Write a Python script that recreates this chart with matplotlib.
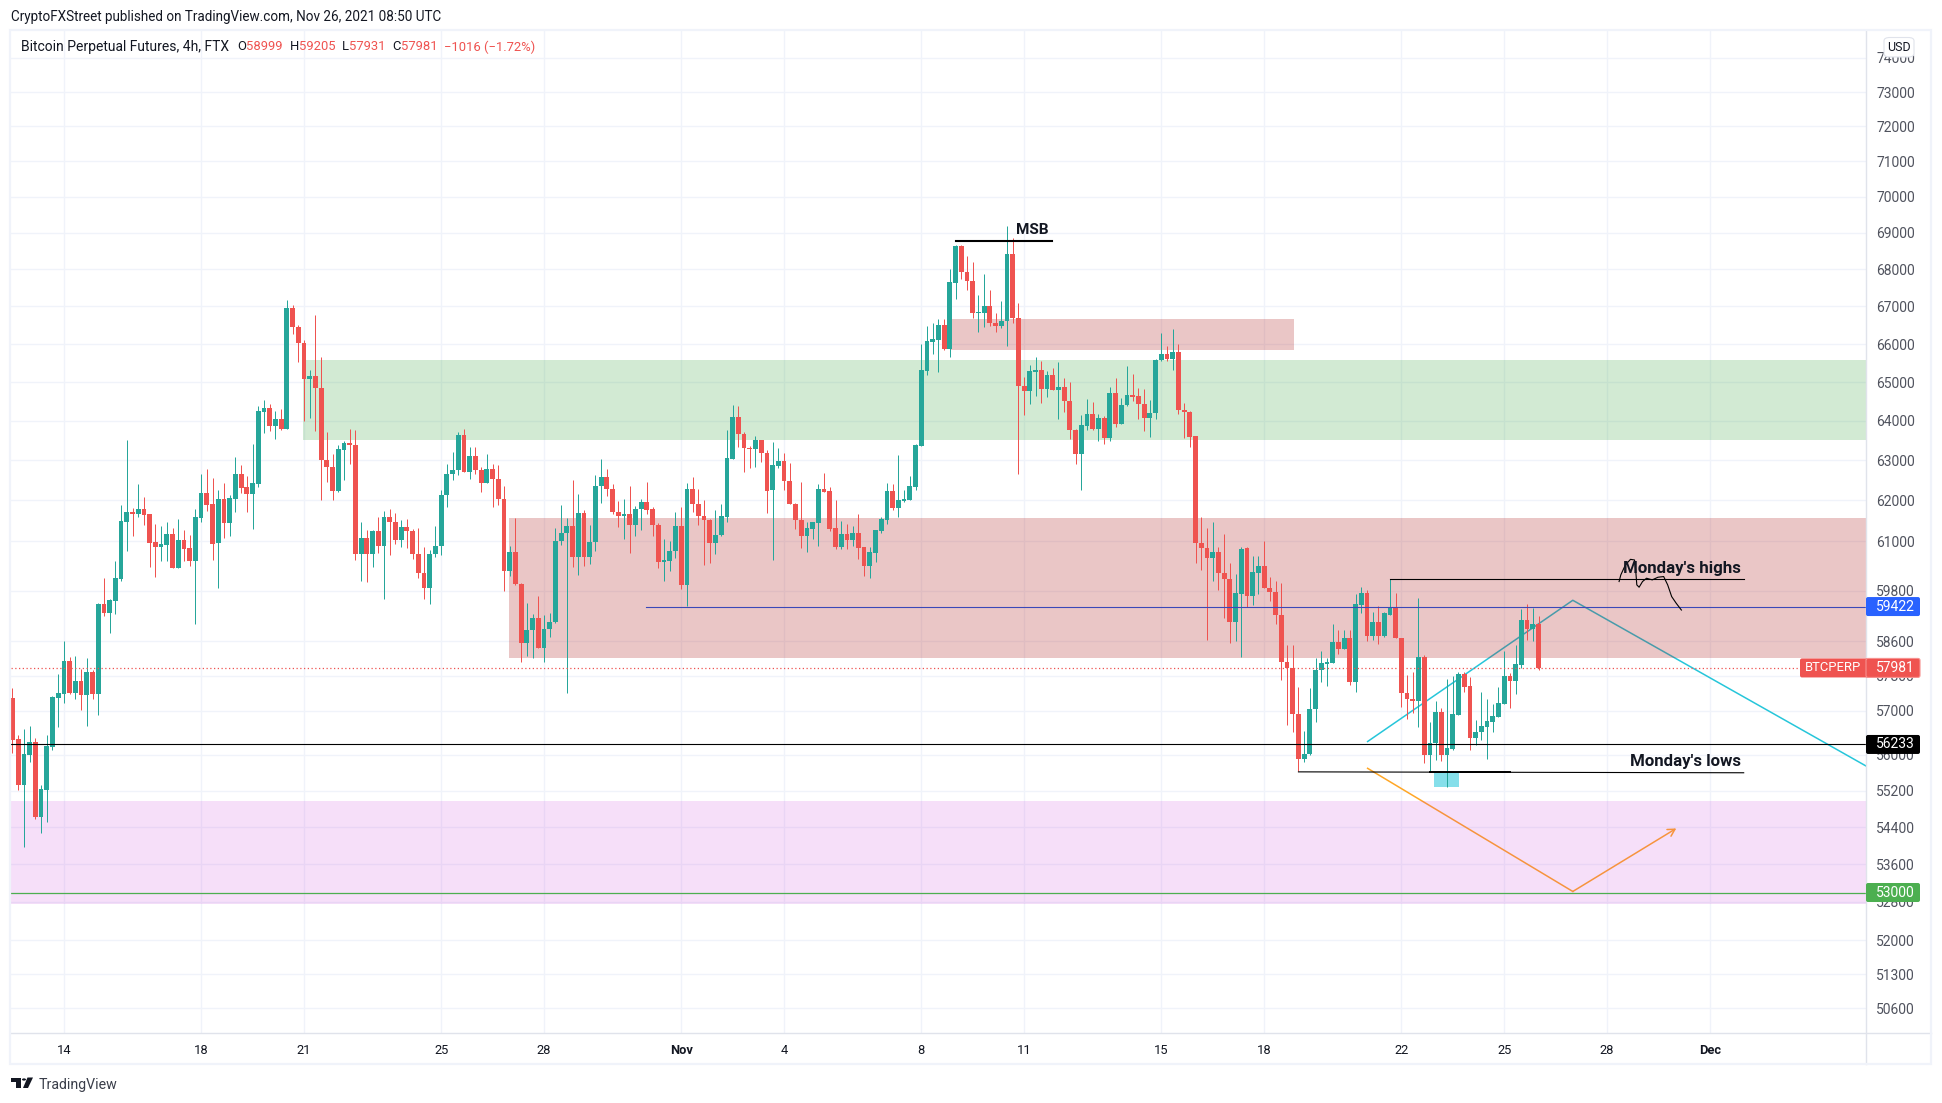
import matplotlib
matplotlib.use("Agg")
import matplotlib.pyplot as plt
from matplotlib.patches import Rectangle, FancyBboxPatch, Polygon, Circle
from matplotlib.ticker import FixedLocator, NullLocator, FuncFormatter
from matplotlib.transforms import IdentityTransform

plt.rcParams['font.family'] = ['Roboto', 'DejaVu Sans']

# 4h candles
opens = [
    57290,56360,55330,56000,56290,54630,55220,56180,57290,57380,
    58140,57400,57680,57360,57890,57380,59480,59270,59560,60080,
    61470,61710,61660,61790,61660,60980,60850,60900,61170,60350,
    61030,60830,60520,61570,62180,61910,60950,62040,61440,62040,
    62660,62330,62160,62410,64230,64330,63870,64050,63800,66960,
    66460,66030,65090,65170,64860,63010,62830,62230,63260,63440,
    63390,60690,61070,60690,61250,60880,61590,61470,61030,61340,
    61250,60690,60230,59870,60690,60880,62130,62660,62760,63640,
    62710,63110,62760,62430,62780,62530,62040,60270,60730,59960,
    58560,58870,59150,58440,58890,59060,61000,61200,61370,60610,
    61690,60610,60980,62360,62580,62280,61710,61610,61660,61390,
    61790,61960,61790,61390,60490,60520,60760,61370,59940,62280,
    61910,61610,61520,60950,61150,61590,63040,64100,63670,63310,
    63290,63520,63190,62260,62860,62980,62480,61910,61520,61120,
    61290,61440,62280,62230,61320,60860,61170,61030,61200,60850,
    60390,60710,61240,61520,62230,61810,61980,62010,62330,63360,
    65290,66050,66110,66510,65870,67630,68640,67930,67690,66830,
    66830,67010,66560,66480,66610,68420,66690,64900,64770,65270,
    65320,64830,65190,64800,64880,64510,63770,63160,63880,64180,
    63800,64070,63570,64720,63920,64410,64670,64640,64440,64070,
    64200,65580,65740,65610,65790,64280,64230,63620,60950,60830,
    60590,60730,60220,60080,59050,59720,60830,59670,60230,60390,
    59870,59770,59220,58120,57980,56920,55910,56020,57040,57930,
    58070,58100,58590,58420,58680,57660,59460,59750,58720,59050,
    58720,59220,59390,58680,57400,57260,57220,58230,56000,56260,
    56970,56000,56130,56900,57840,57560,56380,56510,56630,56740,
    56850,57150,57790,57680,58050,59100,58890,58999]
highs = [
    57520,56450,56580,56650,56380,55330,56450,57330,57840,58610,
    58240,58260,57960,58210,57930,59510,60100,59600,60520,61890,
    63520,61810,62410,62090,61660,61420,61370,61470,61320,61540,
    61270,61150,61790,62660,62780,62560,62260,62430,62140,63090,
    62880,62610,63410,64390,64540,64440,64260,64310,67170,67040,
    66510,66110,65330,66770,65670,63720,63160,63390,63490,63800,
    63770,61470,61270,61270,61590,61740,61790,61690,61520,61540,
    61300,61320,60850,60780,61370,62260,62910,63210,63720,63800,
    63340,63340,62830,63160,62910,62880,62360,60880,61570,59980,
    59510,59250,59670,59220,59270,61320,61890,61570,62510,62160,
    61760,61390,62630,63040,62780,62410,61990,62040,62360,61860,
    62040,62460,61840,61440,61040,61000,61710,61840,62430,62580,
    62280,62010,61540,61760,61910,63770,64410,64380,63720,63360,
    63620,63520,63260,63460,63310,63190,62930,61930,62460,61470,
    61470,62410,62680,62330,62010,61490,61420,61370,61660,60860,
    60860,61270,61590,62430,62410,63130,62260,62610,63410,66000,
    66480,66560,66670,66670,68010,68670,68660,68370,68200,67310,
    67880,67440,66830,67150,69190,68860,67090,65130,65450,65660,
    65550,65290,65370,65530,65110,65000,63790,64150,64560,64490,
    64180,64120,64880,65110,64590,65420,65210,64850,64820,64540,
    65600,66290,65950,66400,66000,64460,64250,63620,61590,61320,
    61470,60850,61170,60470,60200,60860,60860,60640,60640,61000,
    60130,60030,59990,58520,58520,57540,56540,57520,58210,58380,
    58210,59010,58870,58870,58870,59720,59890,59820,59290,59440,
    59290,60080,59750,58680,57820,57890,59630,58280,56740,57220,
    57060,57730,57790,57890,57890,57770,56790,57430,57260,57150,
    57540,58380,57860,58520,59360,59480,59390,59205]
lows = [
    56050,55220,53980,55840,54580,54280,54520,56110,56630,57170,
    57380,57270,57010,56650,57270,56900,59200,58800,59250,60030,
    60760,61120,61590,61390,60370,60130,60520,60520,60350,60350,
    60520,60390,59010,61470,61740,60540,59870,61070,61120,61710,
    62180,61710,61300,62330,63690,63750,63540,63770,63800,66270,
    65530,64000,64080,63750,62010,62460,62010,62210,62510,62910,
    60540,60030,60010,60370,60710,59600,60660,60930,60850,60830,
    60560,60100,59600,59480,60610,60660,61840,62510,62630,62710,
    62530,62660,62210,62430,61840,61890,59790,60150,59940,58120,
    58260,58210,58440,58120,58700,59030,60900,57400,60370,60180,
    60390,60440,60760,61940,62110,61660,61340,61050,60710,61120,
    61270,61660,61120,60350,60030,60270,60590,59840,59430,61710,
    61390,60420,60470,60690,61120,61470,63040,63340,62710,62810,
    62830,62960,61690,60540,62810,62260,61910,61290,60830,60730,
    61050,60880,62210,61240,60810,60810,60810,60880,60560,60150,
    60110,60490,61200,61420,61760,61590,61970,62010,62260,63360,
    65190,65740,65270,65840,65660,67200,67740,67440,66690,66320,
    66450,66480,66320,66430,65950,66560,62660,64150,64440,64640,
    64460,64620,64800,64050,64230,63540,62910,62260,63770,63770,
    63490,63410,63490,63850,63920,64390,64510,64050,63740,63590,
    64050,65560,65550,65320,64180,63570,63340,60470,60300,58630,
    60030,59820,59150,58560,58610,58240,59410,59460,59720,59870,
    59550,59010,57700,56670,56510,55640,55840,56000,56740,57660,
    57570,58100,58310,58420,57590,57430,59270,58610,58630,58540,
    58700,59220,58680,57080,56810,56940,56630,55820,55620,55880,
    55860,55290,56110,56900,57430,56110,56220,56330,55910,56510,
    56850,57150,57060,57380,57980,58630,58610,57931]
closes = [
    56330,55330,56020,56290,54630,55240,56200,57310,57400,58140,
    57400,57680,57360,57890,57380,59480,59270,59580,60100,61490,
    61710,61660,61790,61640,60950,60850,60930,61170,60350,61030,
    60810,60520,61590,62180,61890,60930,62040,61440,62060,62660,
    62310,62160,62430,64260,64330,63870,64050,63800,66960,66460,
    66030,65090,65170,64860,63010,62830,62230,63290,63440,63390,
    60690,61070,60690,61250,60880,61590,61470,61030,61340,61250,
    60690,60230,59870,60690,60880,62130,62660,62760,63640,62710,
    63110,62760,62430,62780,62530,62040,60270,60730,59960,58560,
    58870,59150,58440,58890,59060,61000,61200,61370,60610,61690,
    60610,60980,62360,62580,62280,61710,61610,61660,61390,61790,
    61960,61760,61390,60490,60540,60760,61370,59940,62280,61910,
    61610,61520,60950,61150,61610,63060,64100,63670,63310,63290,
    63520,63190,62230,62880,62980,62480,61910,61520,61120,61320,
    61470,62280,62210,61290,60860,61170,61030,61200,60830,60390,
    60730,61270,61540,62230,61810,62010,62030,62360,63390,65320,
    66080,66130,66510,65870,67660,68640,67930,67690,66830,66850,
    67010,66560,66480,66610,68420,66690,64900,64770,65290,65320,
    64830,65190,64800,64880,64510,63770,63160,63900,64180,63800,
    64070,63570,64720,63920,64410,64670,64620,64440,64070,64200,
    65580,65740,65610,65790,64280,64230,63590,60950,60830,60590,
    60730,60220,60080,59050,59750,60810,59670,60250,60390,59870,
    59770,59220,58120,57980,56920,55910,56020,57040,57930,58100,
    58120,58590,58420,58680,57660,59480,59750,58720,59050,58720,
    59270,59390,58680,57400,57260,57220,58230,56000,56260,56970,
    56000,56150,56920,57840,57540,56380,56510,56650,56760,56880,
    57170,57790,57680,58070,59100,58890,58997,57981]

# axis labels
y_ticks = [74000,73000,72000,71000,70000,69000,68000,67000,66000,65000,64000,63000,62000,61000,
           59800,58600,57800,57000,56000,55200,54400,53600,52800,52000,51300,50600]
x_tick_pos = [9,33,51,75,93,117,135,159,177,201,219,243,261,279,297]
x_tick_labels = ['14','18','21','25','28','Nov','4','8','11','15','18','22','25','28','Dec']

# drawings on the chart (bar index, price)
green_zone = (50.8, 63512, 65580)
red_zone_top = (164.2, 224.2, 65843, 66666)
red_zone_big = (86.9, 58212, 61563)
pink_zone = (52753, 54974)
blue_box = (248.8, 253.1, 55288, 55620)
msb_line = ([165.1, 181.9], [68777, 68777])
highs_line = ([241.1, 302.9], [60075, 60075])
lows_line = ([225, 302.9], [55620, 55600])
lows_thick = ([248, 262], [55610, 55610])
cyan_path = ([237.1, 273, 324.3], [56299, 59571, 55751])
orange_path = ([237.1, 273], [55699, 53022])
orange_arrow = ((273, 53022), (291.1, 54376))
blue_level = 59422
black_level = 56233
green_level = 53000
last_price = 57981
scribble_x = [281.1,281.4,282.2,283.1,283.8,284.0,284.2,284.6,285.2,285.9,286.9,287.9,288.9,289.6,290.3,291.1,292.0]
scribble_y = [60019,60179,60419,60555,60539,60299,59939,59883,60019,60099,60059,60123,60139,59939,59659,59499,59339]

UP = '#26a69a'
DOWN = '#ef5350'
GRID = '#f0f3fa'
DARK = '#131722'
W, H = 1942, 1103
AXIS_X = 1866
X_MIN, X_MAX = -0.26, 324.3


def px_text(x, y, s, **kw):
    # text placed in image pixels, y going down
    kw.setdefault('va', 'center')
    kw.setdefault('color', DARK)
    return fig.text(x / W, 1 - y / H, s, **kw)


fig = plt.figure(figsize=(W / 100, H / 100), dpi=100, facecolor='white')
ax = fig.add_axes([11 / W, 1 - 1033 / H, (AXIS_X - 11) / W, (1033 - 31) / H])
ax.set_yscale('log')
ax.set_xlim(X_MIN, X_MAX)
ax.set_ylim(50104, 74803)
ax.yaxis.tick_right()
ax.yaxis.set_major_locator(FixedLocator(y_ticks))
ax.yaxis.set_minor_locator(NullLocator())
ax.yaxis.set_major_formatter(FuncFormatter(lambda v, p: str(int(round(v)))))
ax.set_xticks(x_tick_pos)
ax.set_xticklabels(x_tick_labels)
ax.tick_params(axis='both', length=0, labelsize=9.3, colors='#50535e')
ax.tick_params(axis='y', pad=7.5, labelsize=10)
ax.tick_params(axis='x', pad=8, labelcolor=DARK)
for lab in ax.get_xticklabels():
    if lab.get_text() in ('Nov', 'Dec'):
        lab.set_fontweight('bold')
ax.grid(True, color=GRID, lw=1.0, zorder=0)
ax.set_axisbelow(True)
for name, sp in ax.spines.items():
    sp.set_visible(False)
x_span = X_MAX - X_MIN

# trend lines sit under the shaded zones, that is how they look in the picture
ax.plot(cyan_path[0], cyan_path[1], color='#26c6da', lw=1.1, zorder=1)
ax.plot(orange_path[0], orange_path[1], color='#ffa726', lw=1.1, zorder=1)
ax.annotate('', xy=orange_arrow[1], xytext=orange_arrow[0],
            arrowprops=dict(arrowstyle='->,head_length=0.5,head_width=0.28', color='#ffa726', lw=1.1,
                            shrinkA=0, shrinkB=0), zorder=1)

# shaded zones
ax.axhspan(green_zone[1], green_zone[2], xmin=(green_zone[0] - X_MIN) / x_span, color='#4caf50', alpha=0.25, lw=0, zorder=2)
ax.add_patch(Rectangle((red_zone_top[0], red_zone_top[2]), red_zone_top[1] - red_zone_top[0],
                       red_zone_top[3] - red_zone_top[2], fc='#ae1d1d', alpha=0.25, lw=0, zorder=2))
ax.axhspan(red_zone_big[1], red_zone_big[2], xmin=(red_zone_big[0] - X_MIN) / x_span, color='#ae1d1d', alpha=0.25, lw=0, zorder=2)
ax.axhspan(pink_zone[0], pink_zone[1], color='#c323d7', alpha=0.14, lw=0, zorder=2)
ax.add_patch(Rectangle((blue_box[0], blue_box[2]), blue_box[1] - blue_box[0], blue_box[3] - blue_box[2],
                       fc='#00bcd4', alpha=0.48, lw=0, zorder=2))

# candles
xs = list(range(len(opens)))
wick_col = [UP if c >= o else DOWN for o, c in zip(opens, closes)]
ax.vlines(xs, lows, highs, colors=wick_col, lw=0.72, zorder=3)
ax.bar(xs, [abs(c - o) for o, c in zip(opens, closes)], bottom=[min(o, c) for o, c in zip(opens, closes)],
       width=0.84, color=wick_col, lw=0, zorder=3)

# levels and hand drawn lines
ax.axhline(black_level, color='black', lw=0.8, zorder=4)
ax.axhline(green_level, color='#4caf50', lw=0.9, zorder=4)
ax.plot([110.9, X_MAX], [blue_level, blue_level], color='#3b48b8', lw=0.8, zorder=4)
ax.plot([X_MIN, 312.7], [last_price, last_price], color=DOWN, lw=0.9, ls=(0, (1, 2)), zorder=4)
ax.plot(msb_line[0], msb_line[1], color='black', lw=1.5, zorder=4)
ax.plot(highs_line[0], highs_line[1], color='black', lw=0.8, zorder=4)
ax.plot(lows_line[0], lows_line[1], color='black', lw=0.8, zorder=4)
ax.plot(lows_thick[0], lows_thick[1], color='black', lw=1.4, zorder=4)
ax.plot(scribble_x, scribble_y, color='black', lw=0.8, zorder=5)

ax.text(178.4, 69080, 'MSB', fontsize=11, fontweight='bold', ha='center', va='center', color=DARK, zorder=6)
ax.text(302.4, 60330, "Monday's highs", fontsize=12.2, fontweight='bold', ha='right', va='center', color=DARK, zorder=6)
ax.text(302.4, 55860, "Monday's lows", fontsize=12.2, fontweight='bold', ha='right', va='center', color=DARK, zorder=6)

# price tags on the right axis
fig.canvas.draw()
for price, col, edge in [(blue_level, '#2962ff', 'none'), (last_price, DOWN, '#f7918f'),
                         (black_level, '#000000', 'none'), (green_level, '#4caf50', 'none')]:
    yc = ax.transData.transform((0, price))[1]
    fig.add_artist(FancyBboxPatch((1866, yc - 9.5), 54, 19, boxstyle='round,pad=0,rounding_size=2', fc=col, ec=edge,
                                  lw=0.8, transform=IdentityTransform(), zorder=5))
    fig.text(1895, yc, str(price), color='white', fontsize=10, ha='center', va='center',
             transform=IdentityTransform(), zorder=6)
yc = ax.transData.transform((0, last_price))[1]
fig.add_artist(FancyBboxPatch((1800, yc - 9.5), 72, 19, boxstyle='round,pad=0,rounding_size=2', fc=DOWN, ec='none',
                              transform=IdentityTransform(), zorder=4))
fig.text(1805, yc, 'BTCPERP', color='white', fontsize=9.4, ha='left', va='center',
         transform=IdentityTransform(), zorder=6)

# frame around the chart
fig.add_artist(Rectangle((10 / W, 1 - 1064 / H), 1921 / W, 1034 / H, fc='none', ec=GRID, lw=1.6, zorder=7))
fig.add_artist(plt.Line2D([AXIS_X / W, AXIS_X / W], [1 - 1064 / H, 1 - 30 / H], color='#e0e3eb', lw=1.0, zorder=3))
fig.add_artist(plt.Line2D([10 / W, 1931 / W], [1 - 1033 / H, 1 - 1033 / H], color='#e0e3eb', lw=1.0, zorder=3))

# USD box
fig.add_artist(FancyBboxPatch((1884 / W, 1 - 57 / H), 30 / W, 19.5 / H, boxstyle='round,pad=0,rounding_size=0.003',
                              fc='white', ec='#e0e3eb', lw=0.8, zorder=5))
px_text(1899, 47.5, 'USD', fontsize=9.0, ha='center', zorder=6)

# header and legend
px_text(11, 17, 'CryptoFXStreet published on TradingView.com, Nov 26, 2021 08:50 UTC', fontsize=9.75, ha='left')
legend_bits = [(21, 'Bitcoin Perpetual Futures, 4h, FTX', DARK, 10.0), (237, 'O', DARK, 9.4), (246, '58999', DOWN, 9.4),
               (289.4, 'H', DARK, 9.4), (298.5, '59205', DOWN, 9.4), (342, 'L', DARK, 9.4), (349, '57931', DOWN, 9.4),
               (392, 'C', DARK, 9.4), (400.5, '57981', DOWN, 9.4), (444, '\u22121016 (\u22121.72%)', DOWN, 9.4)]
for lx, s, c, fs in legend_bits:
    px_text(lx, 47, s, fontsize=fs, ha='left', color=c, zorder=6)

# TradingView logo and name
fig.add_artist(Rectangle((11 / W, 1 - 1081.5 / H), 10 / W, 4 / H, fc=DARK, lw=0))
fig.add_artist(Rectangle((16 / W, 1 - 1088 / H), 5 / W, 10.5 / H, fc=DARK, lw=0))
fig.add_artist(Circle((24 / W, 1 - 1079.5 / H), 2 / W, fc=DARK, lw=0))
fig.add_artist(Polygon([(27.5 / W, 1 - 1077.5 / H), (33 / W, 1 - 1077.5 / H), (28 / W, 1 - 1088 / H), (23 / W, 1 - 1088 / H)],
                       closed=True, fc=DARK, lw=0))
px_text(38.5, 1084.5, 'TradingView', fontsize=10.2, ha='left', color='#3a3e4a')

fig.savefig('out.png', dpi=100)
